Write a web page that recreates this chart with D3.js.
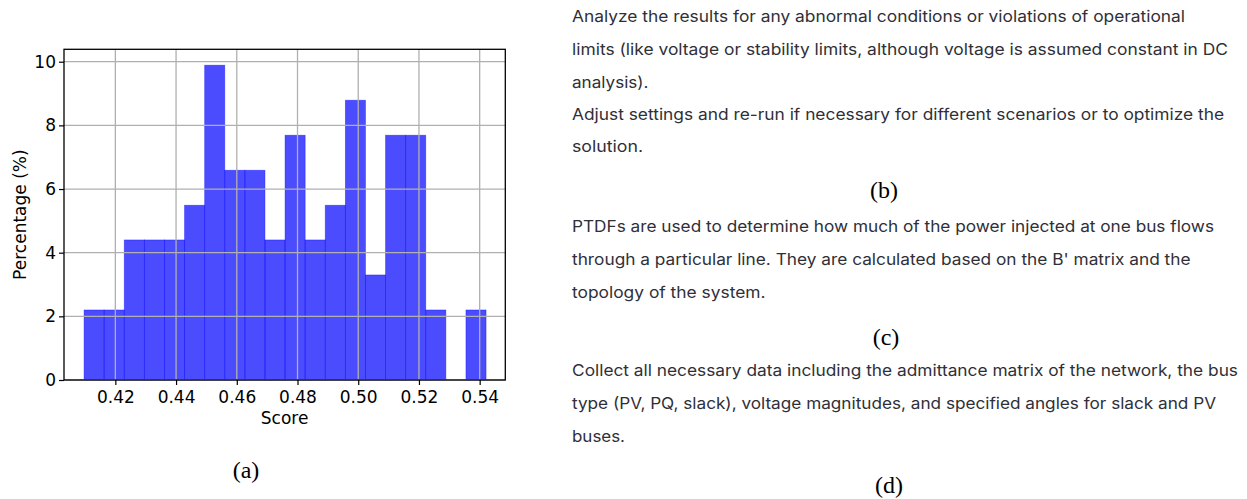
<!DOCTYPE html>
<html>
<head>
<meta charset="utf-8">
<script src="https://cdn.jsdelivr.net/npm/d3@7"></script>
<style>
  html, body { margin: 0; padding: 0; background: #fff; }
  svg { display: block; }
</style>
</head>
<body>
<svg id="chart" width="1247" height="499"></svg>
<script>
// ---------------- data ----------------
// histogram of scores: 20 equal bins between binStart and binEnd
const binStart = 0.4097;
const binEnd = 0.5421;
const percentages = [2.20, 2.20, 4.40, 4.40, 4.40, 5.49, 9.89, 6.59, 6.59, 4.40,
                     7.69, 4.40, 5.49, 8.79, 3.30, 7.69, 7.69, 2.20, 0, 2.20];
const xTicks = [0.42, 0.44, 0.46, 0.48, 0.50, 0.52, 0.54];
const yTicks = [0, 2, 4, 6, 8, 10];
const xLabel = "Score";
const yLabel = "Percentage (%)";
const captions = ["(a)", "(b)", "(c)", "(d)"];
const textB = [
  "Analyze the results for any abnormal conditions or violations of operational",
  "limits (like voltage or stability limits, although voltage is assumed constant in DC",
  "analysis).",
  "Adjust settings and re-run if necessary for different scenarios or to optimize the",
  "solution."
];
const textC = [
  "PTDFs are used to determine how much of the power injected at one bus flows",
  "through a particular line. They are calculated based on the B' matrix and the",
  "topology of the system."
];
const textD = [
  "Collect all necessary data including the admittance matrix of the network, the bus",
  "type (PV, PQ, slack), voltage magnitudes, and specified angles for slack and PV",
  "buses."
];

// ---------------- layout ----------------
const svg = d3.select("#chart");
const plot = { left: 64, right: 505.3, top: 49.3, bottom: 380 };
const xDomain = [0.40309, 0.54844];
const yDomain = [0, 10.39];

const x = d3.scaleLinear().domain(xDomain).range([plot.left, plot.right]);
const y = d3.scaleLinear().domain(yDomain).range([plot.bottom, plot.top]);

const nBins = percentages.length;
const step = (binEnd - binStart) / nBins;
const bins = percentages.map((p, i) => ({ x0: binStart + i * step, x1: binStart + (i + 1) * step, v: p }));

// bars
svg.append("g").selectAll("rect")
  .data(bins.filter(d => d.v > 0))
  .join("rect")
  .attr("x", d => x(d.x0))
  .attr("width", d => x(d.x1) - x(d.x0))
  .attr("y", d => y(d.v))
  .attr("height", d => y(0) - y(d.v))
  .attr("fill", "rgba(0,0,255,0.7)")
  .attr("stroke", "rgba(0,0,255,0.45)")
  .attr("stroke-width", 0.8);

// grid (drawn above bars, as in matplotlib default)
const grid = svg.append("g").attr("stroke", "#b0b0b0").attr("stroke-width", 1.3);
grid.selectAll("line.gx").data(xTicks).join("line")
  .attr("x1", d => x(d)).attr("x2", d => x(d))
  .attr("y1", plot.top).attr("y2", plot.bottom);
grid.selectAll("line.gy").data(yTicks).join("line")
  .attr("x1", plot.left).attr("x2", plot.right)
  .attr("y1", d => y(d)).attr("y2", d => y(d));

// axes
const fontAxis = "'DejaVu Sans', sans-serif";
const xAxis = svg.append("g")
  .attr("transform", `translate(0,${plot.bottom})`)
  .call(d3.axisBottom(x).tickValues(xTicks).tickFormat(d3.format(".2f")).tickSize(5).tickPadding(6))
  ;
const yAxis = svg.append("g")
  .attr("transform", `translate(${plot.left},0)`)
  .call(d3.axisLeft(y).tickValues(yTicks).tickFormat(d3.format("d")).tickSize(5).tickPadding(3));
[xAxis, yAxis].forEach(g => {
  g.select(".domain").remove();
  g.selectAll(".tick line").attr("stroke", "#000").attr("stroke-width", 1.2);
  g.selectAll(".tick text").attr("fill", "#000").style("font-family", fontAxis).style("font-size", "17px");
});

// spines
svg.append("rect")
  .attr("x", plot.left).attr("y", plot.top)
  .attr("width", plot.right - plot.left).attr("height", plot.bottom - plot.top)
  .attr("fill", "none").attr("stroke", "#000").attr("stroke-width", 1.3);

// axis labels
svg.append("text")
  .attr("x", (plot.left + plot.right) / 2).attr("y", 424)
  .attr("text-anchor", "middle")
  .style("font-family", fontAxis).style("font-size", "17px")
  .text(xLabel);
svg.append("text")
  .attr("transform", `translate(26,${(plot.top + plot.bottom) / 2}) rotate(-90)`)
  .attr("text-anchor", "middle")
  .style("font-family", fontAxis).style("font-size", "17px")
  .text(yLabel);

// captions
const captionPos = [[246, 478], [884, 198], [886, 345], [889, 493]];
svg.append("g").selectAll("text").data(captions).join("text")
  .attr("x", (d, i) => captionPos[i][0])
  .attr("y", (d, i) => captionPos[i][1])
  .attr("text-anchor", "middle")
  .style("font-family", "'Liberation Serif', 'Times New Roman', serif")
  .style("font-size", "24px")
  .attr("fill", "#000")
  .text(d => d);

// paragraph texts
const textX = 572;
const blocks = [
  { lines: textB, baselines: [21.7, 55, 87.5, 120, 152], ends: [1185, 1228, 648.5, 1224, 643] },
  { lines: textC, baselines: [231.7, 265, 298.3], ends: [1214, 1190.5, 765.5] },
  { lines: textD, baselines: [376, 409.3, 441.7], ends: [1238, 1216, 625] }
];
const tg = svg.append("g")
  .style("font-family", "Inter, 'Noto Sans', sans-serif")
  .style("font-size", "16px")
  .attr("fill", "#2f2f38");
blocks.forEach(b => {
  b.lines.forEach((s, i) => {
    tg.append("text")
      .attr("x", textX)
      .attr("y", b.baselines[i])
      .attr("textLength", b.ends[i] - textX)
      .attr("lengthAdjust", "spacingAndGlyphs")
      .text(s);
  });
});
</script>
</body>
</html>
